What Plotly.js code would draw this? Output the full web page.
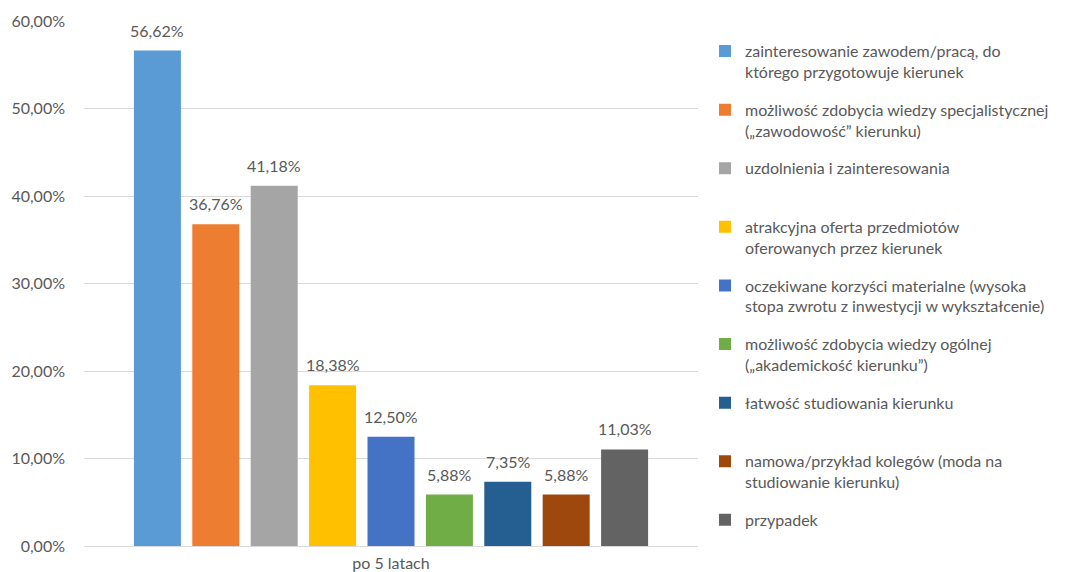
<!DOCTYPE html>
<html><head><meta charset="utf-8">
<script src="https://cdn.plot.ly/plotly-3.0.1.min.js"></script>
<style>html,body{margin:0;padding:0;background:#fff}#chart{width:1087px;height:572px}</style>
</head><body><div id="chart"></div>
<script>
const categories = ["po 5 latach"];
const seriesNames = [
  "zainteresowanie zawodem/pracą, do<br>którego przygotowuje kierunek",
  "możliwość zdobycia wiedzy specjalistycznej<br>(„zawodowość” kierunku)",
  "uzdolnienia i zainteresowania<br> ",
  "atrakcyjna oferta przedmiotów<br>oferowanych przez kierunek",
  "oczekiwane korzyści materialne (wysoka<br>stopa zwrotu z inwestycji w wykształcenie)",
  "możliwość zdobycia wiedzy ogólnej<br>(„akademickość kierunku”)",
  "łatwość studiowania kierunku<br> ",
  "namowa/przykład kolegów (moda na<br>studiowanie kierunku)",
  "przypadek<br> "
];
const seriesValues = [0.5662, 0.3676, 0.4118, 0.1838, 0.1250, 0.0588, 0.0735, 0.0588, 0.1103];
const colors = ["#5B9BD5","#ED7D31","#A5A5A5","#FFC000","#4472C4","#70AD47","#255E91","#9E480E","#636363"];
const yTicks = [0, 0.1, 0.2, 0.3, 0.4, 0.5, 0.6];

const font = "Lato, 'Open Sans', sans-serif";
const W = 1087, H = 572;
const margin = {l: 84, r: 389, t: 21, b: 26};
const bargap = 0.144, bargroupgap = 0.195;
const plotW = W - margin.l - margin.r;
const slotPx = plotW * (1 - bargap) / seriesValues.length;
const mid = (seriesValues.length - 1) / 2;

const traces = seriesNames.map((n, i) => ({
  type: "bar",
  name: n,
  x: categories,
  y: [seriesValues[i]],
  marker: {color: colors[i]},
  legendgroup: "g" + i,
  hoverinfo: "skip"
}));

const fmt = v => (v * 100).toFixed(2).replace(".", ",") + "%";
const annotations = seriesValues.map((v, i) => ({
  x: categories[0], y: v, xref: "x", yref: "y",
  xshift: (i - mid) * slotPx, yshift: 9,
  yanchor: "bottom", xanchor: "center",
  text: fmt(v), showarrow: false,
  font: {family: font, size: 16, color: "#595959"}
}));

const layout = {
  width: W, height: H,
  margin: margin,
  paper_bgcolor: "#fff", plot_bgcolor: "#fff",
  separators: ", ",
  barmode: "group",
  bargap: bargap,
  bargroupgap: bargroupgap,
  font: {family: font, size: 16, color: "#595959"},
  annotations: annotations,
  xaxis: {
    showgrid: false, showline: false, ticks: "", automargin: false,
    ticklabelstandoff: 6,
    tickfont: {family: font, size: 16, color: "#595959"}
  },
  yaxis: {
    range: [0, 0.6], tickvals: yTicks, tickformat: ".2%", automargin: false,
    showgrid: true, gridcolor: "#D9D9D9", gridwidth: 1,
    zeroline: true, zerolinecolor: "#D9D9D9", zerolinewidth: 1,
    showline: false, ticks: "", ticklabelstandoff: 18,
    tickfont: {family: font, size: 16, color: "#595959"}
  },
  showlegend: true,
  legend: {
    x: 1.0114, xanchor: "left", y: 0.975, yanchor: "top",
    traceorder: "grouped", tracegroupgap: 14, valign: "top",
    font: {family: font, size: 16, color: "#595959"},
    itemclick: false, itemdoubleclick: false
  }
};
Plotly.newPlot("chart", traces, layout, {displayModeBar: false, staticPlot: true});
</script></body></html>
